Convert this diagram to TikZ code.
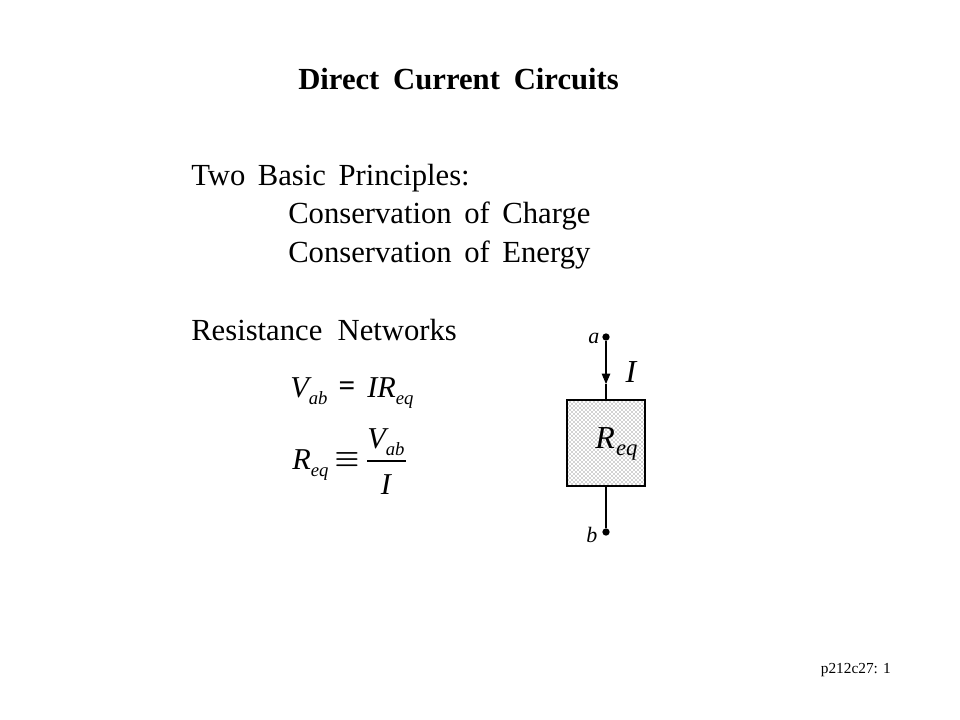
\documentclass[tikz,border=0pt]{standalone}
\usepackage{amsmath}
\usepackage{amssymb}
\usepackage{fontspec}
\setmainfont{Liberation Serif}
\usepackage{tikz}
\usetikzlibrary{patterns,arrows,positioning}
\tikzset{>=triangle 45}
\newcommand{\lowsub}[1]{\raisebox{-5.25pt}{\fontsize{14}{16}\selectfont #1}}

\begin{document}
\begin{tikzpicture}[x=.75pt,y=-.75pt,
                          heading/.style={anchor=base west, inner sep=0pt, font=\fontsize{23}{28}\selectfont\bfseries, execute at begin node={\spaceskip=10.35pt\relax}},
                          textline/.style={anchor=base west, inner sep=0pt, font=\fontsize{23}{28}\selectfont, execute at begin node={\spaceskip=9.4pt\relax}},
                          formula/.style={inner sep=0pt, font=\fontsize{22.7}{26}\selectfont\itshape},
                          operator/.style={inner sep=0pt, font=\fontsize{22}{26}\selectfont\bfseries},
                          terminal/.style={circle, fill=black, inner sep=0pt, minimum size=5.5pt},
                          wire/.style={thick, black},
                          resistor/.style={draw=black, thick, pattern=crosshatch dots, pattern color=black!75, minimum width=58.5pt, minimum height=64.5pt, inner sep=0pt},
                          endlabel/.style={inner sep=0pt, font=\fontsize{16.5}{18}\selectfont\itshape},
                         ]

\useasboundingbox (0,0) rectangle (960,720);

\node[heading] (title) at (298,90) {Direct Current Circuits};

\node[textline] (principles) at (191,186) {Two Basic Principles:};
\node[textline] (charge) at (288,224) {Conservation of Charge};
\node[textline] (energy) at (288,263) {Conservation of Energy};
\node[textline] (networks) at (191,340) {Resistance\hspace{2pt} Networks};

\node[formula, anchor=base west] (vab) at (290,397) {V\lowsub{ab}};
\node[operator, anchor=center] (eqsign) at (347,388.5) {=};
\node[formula, anchor=base west] (irq) at (367,397) {IR\lowsub{eq}};

\node[formula, anchor=base west] (rq) at (292,469) {R\lowsub{eq}};
\node[operator, anchor=center] (equiv) at (347,460) {$\boldsymbol{\equiv}$};
\node[formula, anchor=base west] (num) at (367,448) {V\lowsub{ab}};
\node[formula, anchor=base] (den) at (386,494) {I};
\draw[thick] (367,461) -- (406,461);

\node[resistor] (box) at (606,443) {};
\node[inner sep=0pt, anchor=base west, font=\fontsize{24}{28}\selectfont\itshape] (req) at (595,448) {R\hspace{1pt}\raisebox{-5.25pt}{\fontsize{17}{18}\selectfont eq}};

\node[terminal] (a) at (606,337) {};
\node[terminal] (b) at (606,532) {};
\node[endlabel, anchor=base west] (alabel) at (588,343) {a};
\node[endlabel, anchor=base west] (blabel) at (586,542) {b};

\coordinate (tip) at (606,384);
\draw[wire,->] (a) -- (tip);
\draw[wire] (tip) -- (box);
\draw[wire] (box) -- (b);

\node[inner sep=0pt, anchor=base, font=\fontsize{24}{28}\selectfont\itshape] (current) at (631,382) {I};

\node[anchor=base east, inner sep=0pt, font=\fontsize{11.5}{13}\selectfont] (page) at (891,673) {p212c27: 1};

\end{tikzpicture}
\end{document}
